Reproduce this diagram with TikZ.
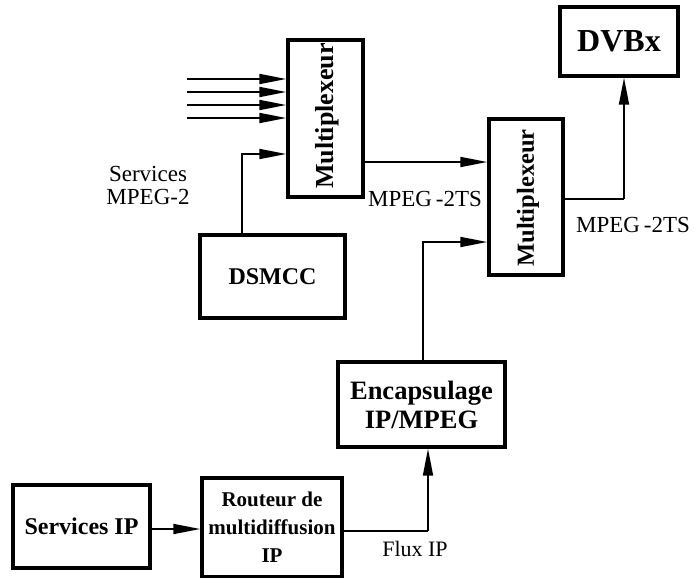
\documentclass[tikz,border=0pt]{standalone}
\usepackage{fontspec}
\setmainfont{Liberation Serif}
\usetikzlibrary{arrows.meta,calc}

\tikzset{
  blk/.style={draw, line width=3.4pt, rectangle, inner sep=0pt, align=center,
              font=\bfseries\fontsize{24}{28}\selectfont},
  vtext/.style={rotate=90, inner sep=0pt},
  link/.style={line width=1.8pt},
  flow/.style={link, -{Triangle[length=27pt,width=10pt]}},
  lbl/.style={font=\fontsize{23}{23}\selectfont, align=center, inner sep=0pt},
}

\begin{document}
\begin{tikzpicture}[x=1pt,y=-1pt]
\useasboundingbox (0,0) rectangle (694,578);

% blocks
\node[blk, minimum width=75pt, minimum height=157pt] (mux1) at (325.5,118.5) {};
\node[vtext, font=\bfseries\fontsize{26}{28}\selectfont] (mux1t) at (327,116) {Multiplexeur};
\node[blk, minimum width=74pt, minimum height=156pt] (mux2) at (526,197) {};
\node[vtext, font=\bfseries\fontsize{24.5}{28}\selectfont] (mux2t) at (528,198) {Multiplexeur};
\node[blk, minimum width=118pt, minimum height=69pt, font=\bfseries\fontsize{32}{34}\selectfont] (dvb) at (619,41.5) {DVBx};
\node[blk, minimum width=145pt, minimum height=83pt] (dsmcc) at (272.5,276.5) {DSMCC};
\node[blk, minimum width=167pt, minimum height=85pt, font=\bfseries\fontsize{26.5}{29}\selectfont] (enc) at (421.5,404.5) {Encapsulage\\IP/MPEG};
\node[blk, minimum width=137pt, minimum height=83pt, font=\bfseries\fontsize{24}{28}\selectfont] (sip) at (81.5,526.5) {Services IP};
\node[blk, minimum width=140pt, minimum height=99pt, font=\bfseries\fontsize{21}{28}\selectfont] (rout) at (272,527.5) {Routeur de\\multidiffusion\\IP};

% free ends of the four MPEG-2 inputs
\coordinate (in1) at (187,79);
\coordinate (in2) at (187,92);
\coordinate (in3) at (187,105);
\coordinate (in4) at (187,118);
\foreach \i in {1,...,4}
  \draw[flow] (in\i) -- (in\i -| mux1.west);

% DSMCC into the first multiplexer
\coordinate (dsup) at (242,235);
\draw[flow] (dsup) |- ($(mux1.west)+(0,35.5)$);

% first multiplexer into the second
\draw[flow] ($(mux1.east)+(0,43.5)$) -- ($(mux2.west)+(0,-35)$);

% second multiplexer to DVBx
\coordinate (turn) at (624,199);
\draw[link] ($(mux2.east)+(0,2)$) -- (turn);
\draw[flow] (turn) -- (turn |- dvb.south);

% encapsulation into the second multiplexer
\draw[flow] (enc.north -| 423,0) |- ($(mux2.west)+(0,45)$);

% IP services chain
\draw[flow] (sip.east |- 0,529) -- (rout.west |- 0,529);
\coordinate (fx) at (428,531);
\draw[link] (rout.east |- fx) -- (fx);
\draw[flow] (fx) -- (fx |- enc.south);

% labels
\node[lbl] (lsv) at (148,185) {Services\\MPEG-2};
\node[lbl] (lts1) at (425,199) {MPEG\,-2TS};
\node[lbl] (lts2) at (633,225) {MPEG\,-2TS};
\node[lbl, font=\fontsize{22}{23}\selectfont] (lfx) at (415,549) {Flux IP};
\end{tikzpicture}
\end{document}
